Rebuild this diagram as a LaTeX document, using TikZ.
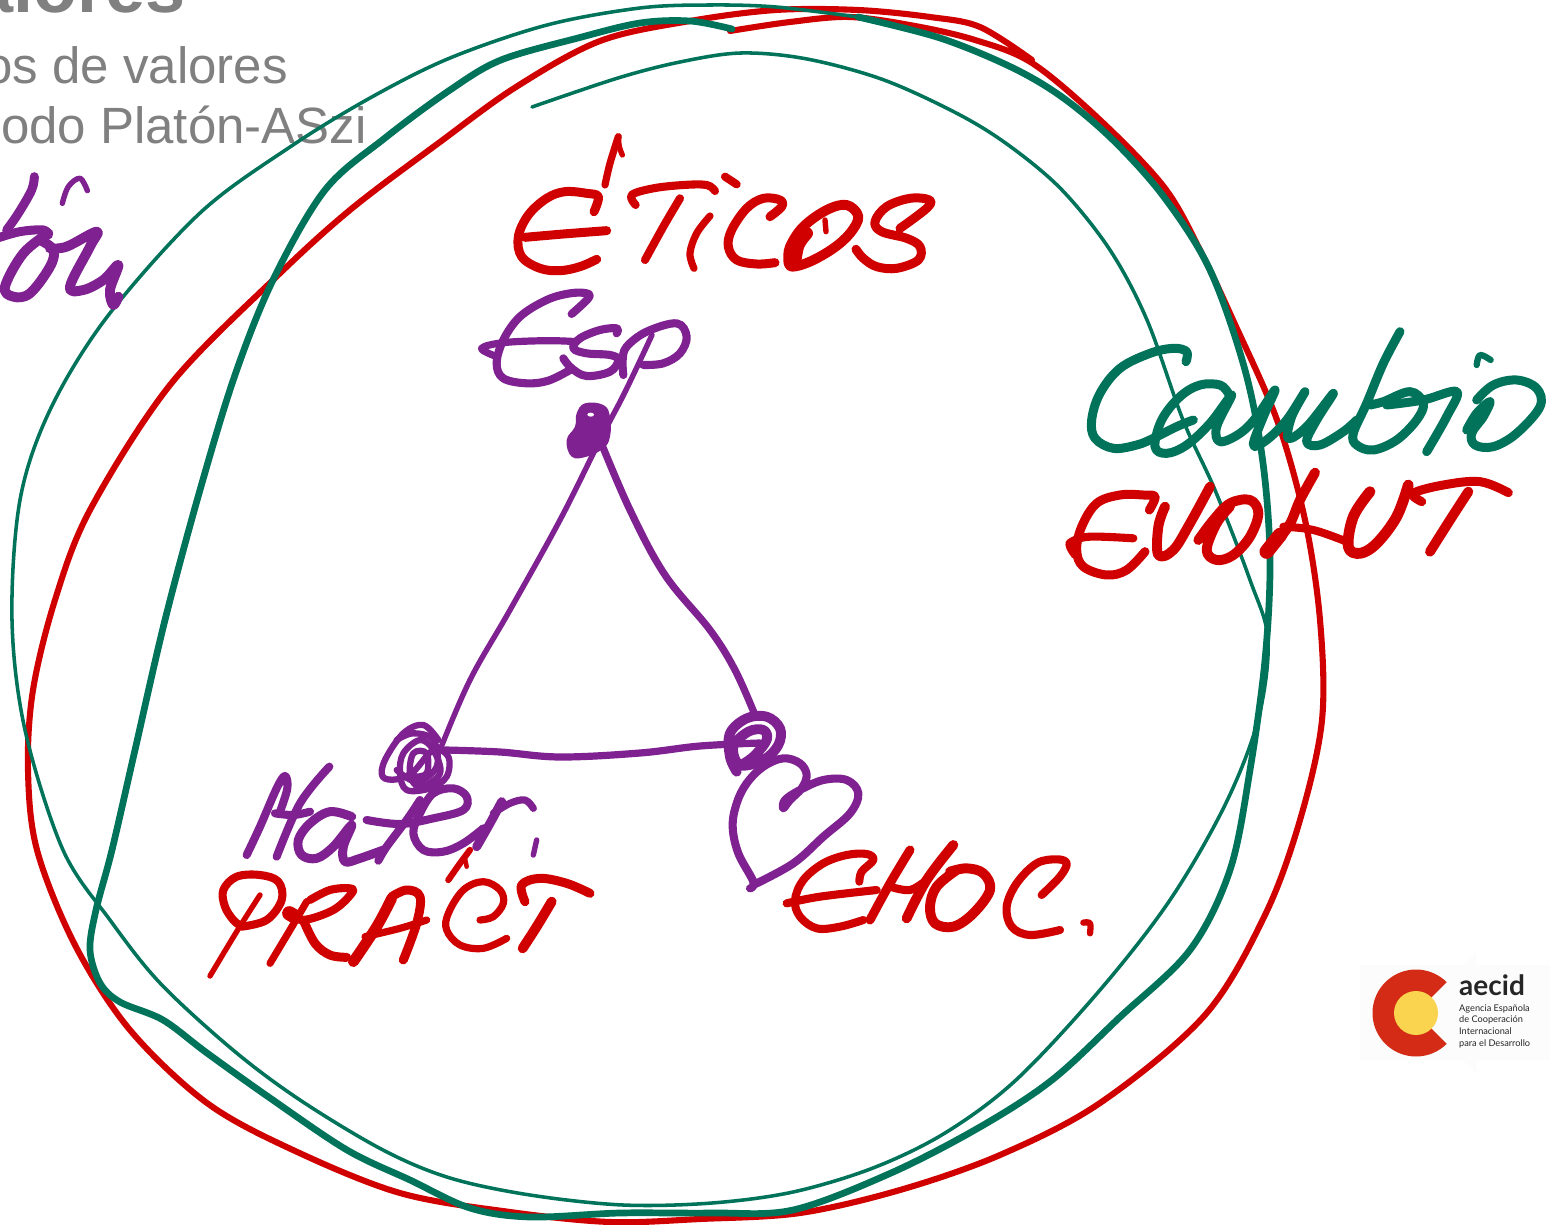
\documentclass[tikz,border=0pt]{standalone}
\usepackage{fontspec}
\setmainfont{Liberation Sans}
\newfontfamily\logofont{Lato}
\definecolor{hred}{HTML}{D10000}
\definecolor{hgreen}{HTML}{00735A}
\definecolor{hpurple}{HTML}{7F2190}
\definecolor{tgray}{HTML}{808080}
\definecolor{logored}{HTML}{D42B16}
\definecolor{logoyel}{HTML}{FAD44E}
\newcommand{\wf}{1.8}
\tikzset{
  ink/.style={line cap=round,line join=round},
  rd/.style={ink,draw=hred,line width=\wf*#1},
  rd/.default=4.5pt,
  gn/.style={ink,draw=hgreen,line width=\wf*#1},
  gn/.default=6pt,
  pu/.style={ink,draw=hpurple,line width=\wf*#1},
  pu/.default=5pt,
  grayhead/.style={text=tgray,inner sep=0pt,anchor=base east,font=\fontsize{51}{60}\selectfont},
  logotxt/.style={text=black!85,inner sep=0pt,anchor=base west,font=\logofont\fontsize{9.2}{11}\selectfont},
  zoomed/.style={scale=0.33333}
}
\newcommand{\hw}[2]{\draw[#1] plot[smooth,tension=0.6] coordinates {#2};}
\newcommand{\hwb}[2]{\draw[#1] plot[smooth,tension=0.55] coordinates {#2};}
\begin{document}
\begin{tikzpicture}[x=1pt,y=-1pt]
\useasboundingbox (0,0) rectangle (1553,1225);
\clip (0,0) rectangle (1553,1225);
\fill[white] (0,0) rectangle (1553,1225);
% heading
\node[grayhead,font=\bfseries\fontsize{72}{80}\selectfont] (title) at (186,13) {alores};
\node[grayhead] (sub1) at (288,84) {os de valores};
\node[grayhead] (sub2) at (367,144) {odo Platón-ASzi};
% big loops
\renewcommand{\wf}{1.22}
\hwb{rd=5pt}{(730,31)(790,22)(850,17)(915,26)(975,40)(1032,63)(1100,120)(1164,187)(1200,250)(1233,320)(1277,420)(1305,520)(1320,620)(1322,720)(1300,820)(1265,915)(1205,1015)(1100,1103)(1000,1155)(900,1190)(800,1213)(700,1219)(610,1222)(510,1212)(400,1193)(293,1150)(207,1103)(130,1030)(75,945)(37,850)(28,770)(33,690)(55,600)(90,510)(170,385)(273,280)(350,210)(440,142)(516,87)(600,41)(690,21)(776,10)(858,10)(930,17)(980,27)(1032,60)}
\hwb{gn=5.5pt}{(732,29)(690,21)(640,23)(578,38)(501,60)(450,90)(385,138)(325,190)(273,280)(235,375)(200,490)(165,620)(135,750)(112,850)(96,910)(90,950)(100,983)(120,1002)(163,1020)(207,1053)(270,1098)(347,1150)(410,1180)(470,1208)(530,1217)(620,1213)(712,1213)(793,1210)(891,1173)(980,1127)(1052,1080)(1120,1017)(1190,950)(1230,870)(1250,770)(1265,660)(1270,560)(1263,463)(1245,370)(1210,270)(1164,197)(1113,140)(1062,97)(1011,67)(940,38)(858,17)}
\hwb{gn=2.9pt}{(858,17)(776,7)(710,5)(640,8)(547,25)(450,58)(370,98)(290,147)(200,213)(107,317)(50,410)(20,500)(12,620)(25,730)(63,850)(110,920)(160,983)(233,1050)(300,1100)(383,1150)(450,1178)(530,1195)(623,1205)(712,1203)(793,1192)(873,1168)(945,1133)(1016,1080)(1100,990)(1170,900)(1225,805)(1258,720)(1268,640)(1250,580)(1215,490)(1183,420)(1147,320)(1110,250)(1062,190)(1011,147)(960,115)(884,80)(807,59)(741,53)(680,62)(618,78)(532,107)}
% triangle
\renewcommand{\wf}{1.2}
\hw{pu=4.5pt}{(652,335)(625,392)(600,440)(560,520)(510,610)(470,680)(440,750)}
\hw{pu=6pt}{(600,440)(630,510)(665,575)(710,630)(735,670)(755,715)}
\hw{pu=6pt}{(445,750)(500,752)(560,757)(640,753)(700,746)(760,743)}
\renewcommand{\wf}{1.8}
% ETICOS and Esp
\begin{scope}[shift={(470,120)},zoomed]
\hw{rd=4pt}{(405,195)(420,130)(445,50)}
\hw{rd=3pt}{(445,50)(448,80)(457,105)}
\hw{rd=5pt}{(372,275)(385,230)(350,220)(285,215)(230,235)(175,285)(145,350)(155,410)(210,445)(270,452)(330,440)(380,418)}
\hw{rd=5pt}{(165,352)(280,342)(410,332)}
\hw{rd=4.5pt}{(497,255)(485,225)(550,205)(640,195)(710,195)(735,213)}
\hw{rd=4.5pt}{(630,235)(580,320)(525,420)}
\hw{rd=4pt}{(720,288)(680,340)(660,400)(672,445)}
\hw{rd=4.5pt}{(765,170)(800,193)}
\hw{rd=5pt}{(900,290)(935,260)(930,240)(880,235)(830,265)(785,330)(775,380)(800,420)(860,432)(915,428)}
\hw{rd=5.5pt}{(955,420)(960,380)(1000,320)(1070,270)(1130,255)(1165,290)(1140,340)(1090,385)(1020,425)(965,440)(955,420)}
\hw{rd=7pt}{(975,425)(985,375)(1010,340)}
\hw{rd=3pt}{(1068,335)(1065,300)}
\hw{rd=5pt}{(1290,325)(1370,265)(1378,240)(1320,235)(1250,260)(1215,305)(1235,335)(1310,355)(1350,380)(1345,420)(1280,445)(1220,440)(1180,415)(1158,388)}
\hw{pu=4.5pt}{(305,582)(355,535)(350,520)(300,520)(230,540)(150,590)(100,660)(80,730)(100,775)(170,790)(235,782)(300,750)}
\hw{pu=4pt}{(75,708)(35,685)(100,668)(230,662)(320,665)}
\hw{pu=4.5pt}{(440,640)(440,625)(390,630)(330,655)(310,685)(350,700)(420,705)(445,720)(420,755)(350,768)(305,745)(280,715)}
\hw{pu=4.5pt}{(460,765)(458,720)(470,680)(530,635)(620,610)(650,650)(630,700)(580,730)(520,735)}
\fill[hpurple] plot[smooth cycle,tension=0.7] coordinates {(320,880)(345,850)(400,855)(420,890)(420,950)(400,985)(350,1010)(305,1010)(290,960)(315,920)};
\fill[white] (362,884) ellipse (10 and 6);
\end{scope}
% Mater and PRACT
\begin{scope}[shift={(200,700)},zoomed]
\hw{pu=3.5pt}{(715,120)(670,75)(610,100)(555,180)(548,230)(590,238)(640,215)(700,150)(745,170)(740,230)(690,265)(620,270)(600,220)(610,160)(660,120)(700,150)(720,220)(660,260)(630,225)(640,160)(680,160)(680,220)(640,230)}
\hw{pu=3.5pt}{(590,120)(640,100)(700,120)(710,200)(650,245)(590,210)}
\hw{pu=4.5pt}{(140,465)(180,380)(230,265)(255,228)(262,265)(240,335)}
\hw{pu=4.5pt}{(388,200)(300,310)(230,470)}
\hw{pu=4.5pt}{(225,340)(280,345)(330,335)}
\hw{pu=5pt}{(455,350)(390,335)(330,370)(295,420)(305,465)(350,475)(400,440)(455,375)(430,440)(435,485)(480,475)(550,450)}
\hw{pu=4.5pt}{(660,300)(620,360)(560,440)(535,482)}
\hw{pu=4.5pt}{(500,360)(600,372)(700,355)(790,330)(800,290)(760,265)(700,280)(660,340)(640,400)(670,450)(730,455)(790,430)(850,385)}
\hw{pu=5pt}{(830,440)(870,370)(905,305)}
\hw{pu=4pt}{(880,340)(930,310)(975,300)(1000,325)}
\hw{pu=3pt}{(1010,420)(1000,465)}
\hw{rd=3pt}{(30,828)(110,695)(180,585)}
\hw{rd=4.5pt}{(125,680)(200,660)(245,600)(235,545)(180,525)(110,530)(70,570)(75,620)(100,660)(125,680)}
\hw{rd=4pt}{(210,790)(270,690)(320,605)}
\hw{rd=8pt}{(268,640)(285,650)}
\hw{rd=4.5pt}{(265,640)(310,660)(400,630)(455,580)(450,565)(390,570)(330,600)}
\hw{rd=5pt}{(310,660)(345,730)(390,765)(440,772)}
\hw{rd=6pt}{(460,785)(530,680)(575,595)}
\hw{rd=5pt}{(575,590)(620,570)(660,590)(650,670)(610,780)}
\hw{rd=4pt}{(495,710)(600,685)(680,660)}
\hw{rd=3.5pt}{(745,540)(780,490)(810,450)}
\hw{rd=2.5pt}{(795,475)(800,500)}
\hw{rd=4pt}{(840,660)(880,650)(910,610)(900,570)(850,545)(790,570)(745,640)(740,690)(780,735)(850,745)(920,715)}
\hw{rd=5pt}{(975,605)(965,555)(1020,535)(1100,550)(1170,580)}
\hw{rd=5.5pt}{(1055,605)(1010,680)(968,745)}
\end{scope}
% node and heart and EMOC
\begin{scope}[shift={(710,700)},zoomed]
\hw{pu=5.5pt}{(80,215)(60,170)(60,100)(110,55)(170,50)(210,85)(205,135)(160,180)(90,195)(70,140)(115,95)(160,90)(170,120)(130,170)(85,200)}
\hw{pu=4.5pt}{(120,565)(130,545)(85,460)(68,380)(80,310)(110,250)(160,200)(220,175)(270,190)(290,225)(275,265)(240,300)(220,325)(225,300)(270,270)(340,240)(410,240)(445,280)(420,340)(340,410)(250,490)(130,555)}
\hw{rd=4.5pt}{(448,545)(455,515)(490,480)(470,462)(410,465)(340,490)(280,540)(255,600)(270,650)(320,685)(390,680)(460,660)}
\hw{rd=4.5pt}{(230,610)(330,590)(500,570)}
\hw{rd=5pt}{(480,660)(540,550)(600,450)}
\hw{rd=5.5pt}{(590,655)(650,540)(730,435)}
\hw{rd=4.5pt}{(540,560)(600,570)(650,540)}
\hw{rd=5.5pt}{(740,510)(680,560)(660,620)(675,670)(730,680)(790,640)(840,570)(820,520)(770,505)(720,515)}
\hw{rd=4.5pt}{(995,585)(1050,530)(1070,490)(1040,478)(980,490)(920,550)(890,620)(905,680)(960,705)(1050,690)}
\hw{rd=3.5pt}{(1120,668)(1140,670)(1140,700)}
\end{scope}
% Cambio and EVOLUT
\begin{scope}[shift={(1050,320)},zoomed]
\hw{gn=5pt}{(408,125)(410,95)(370,85)(300,100)(210,145)(150,220)(125,300)(135,355)(190,385)(260,375)(310,355)(380,320)(430,300)}
\hw{gn=5pt}{(535,220)(510,195)(450,195)(390,230)(335,300)(315,380)(350,400)(410,375)(480,310)(545,225)(500,320)(510,365)(570,340)(620,290)(675,210)(640,290)(610,375)(650,360)(710,300)(765,215)(725,290)(715,355)(770,320)(850,220)(800,300)(770,365)(810,375)(880,335)(920,300)}
\hw{gn=5pt}{(1050,35)(1000,130)(950,250)(910,340)(920,375)(970,390)(1040,360)(1100,300)(1120,250)(1080,215)(1000,245)(960,255)}
\hw{gn=5pt}{(1010,255)(1120,240)(1220,215)(1190,290)(1130,395)}
\hw{gn=3.5pt}{(1280,135)(1290,105)(1322,120)}
\hw{gn=5pt}{(1250,330)(1280,280)(1320,245)(1300,290)(1265,340)(1275,375)(1330,380)(1400,340)(1470,260)(1460,205)(1400,180)(1330,195)(1280,240)}
\hw{rd=5pt}{(298,570)(315,530)(280,525)(210,525)(140,550)(95,620)(80,690)(100,740)(170,765)(230,750)(285,695)}
\hw{rd=4.5pt}{(75,705)(60,680)(65,665)(120,650)(250,655)}
\hw{rd=5.5pt}{(345,560)(325,620)(325,705)(370,690)(420,610)(480,500)}
\hw{rd=5.5pt}{(445,660)(490,600)(540,550)(600,540)(625,580)(600,650)(550,705)(500,720)(470,690)(500,610)(540,560)}
\hw{rd=5.5pt}{(795,458)(750,540)(715,620)(650,700)}
\hw{rd=8pt}{(650,695)(690,645)}
\hw{rd=4.5pt}{(700,620)(790,630)(890,665)}
\hw{rd=6pt}{(960,515)(910,590)(895,680)(930,700)(980,670)(1040,590)(1075,495)}
\hw{rd=5pt}{(1115,545)(1090,520)(1180,495)(1290,485)(1375,518)}
\hw{rd=5.5pt}{(1255,515)(1200,600)(1140,695)}
\end{scope}
% Platon fragment
\begin{scope}[zoomed]
\hw{pu=5pt}{(103,530)(95,570)(55,640)(20,690)}
\hw{pu=5pt}{(-10,715)(60,695)(130,690)(145,705)}
\hw{pu=5.5pt}{(145,700)(70,760)(15,860)(40,890)(90,880)(150,800)(160,750)(120,720)}
\hw{pu=5.5pt}{(150,745)(200,740)(290,695)(270,740)(210,860)(250,870)(310,840)(355,795)(330,870)(340,915)(355,890)}
\hw{pu=3pt}{(187,610)(205,560)(240,535)(262,572)}
\end{scope}
% logo
\fill[white!99!black] (1360,965) rectangle (1550,1060);
\fill[logored] (1416,1013) circle (43.5);
\fill[white!99!black] (1416,1013) -- (1476,953) -- (1476,1073) -- cycle;
\fill[logoyel] (1416,1013) circle (22);
\node[logotxt,font=\logofont\bfseries\fontsize{28}{30}\selectfont] (brand) at (1459,995) {aecid};
\node[logotxt] (l1) at (1459,1011) {Agencia Española};
\node[logotxt] (l2) at (1459,1022.5) {de Cooperación};
\node[logotxt] (l3) at (1459,1034) {Internacional};
\node[logotxt] (l4) at (1459,1046) {para el Desarrollo};
\end{tikzpicture}
\end{document}
